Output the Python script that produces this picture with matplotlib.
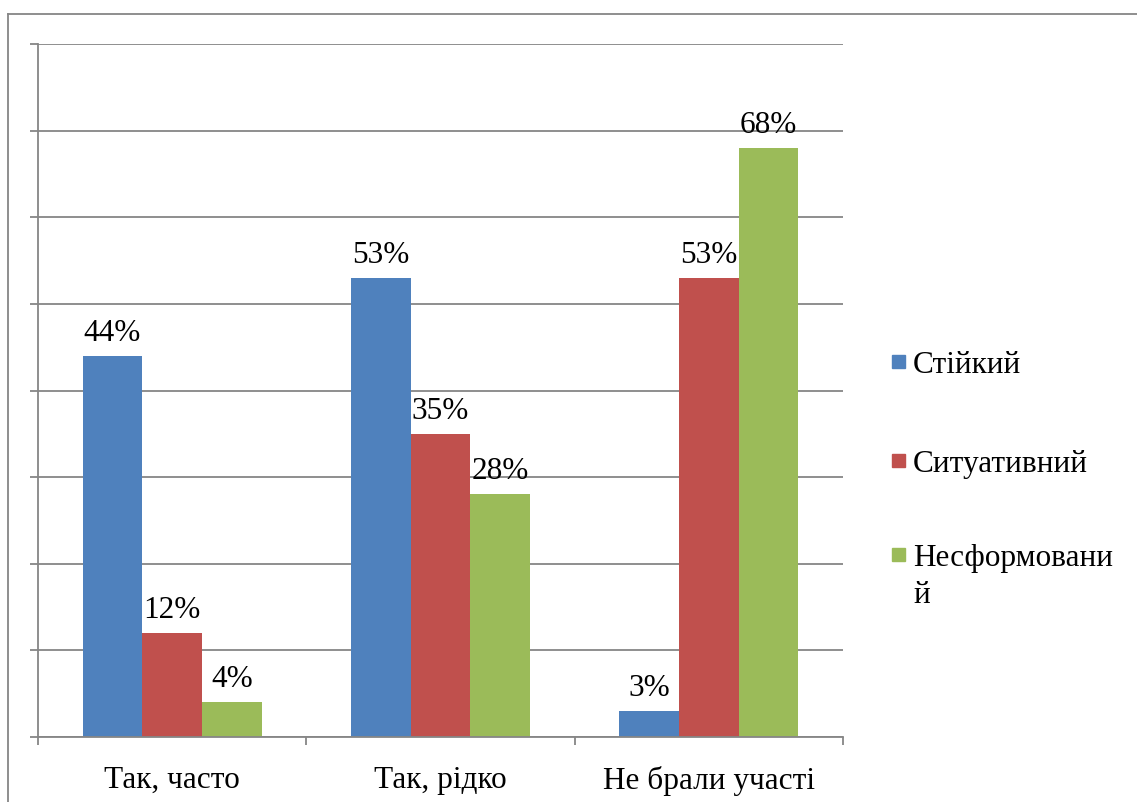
import numpy as np
import matplotlib.pyplot as plt
from matplotlib.patches import Rectangle
from matplotlib.lines import Line2D

plt.rcParams['font.family'] = ['Liberation Serif', 'DejaVu Serif']

# chart data
categories = ['Так, часто', 'Так, рідко', 'Не брали участі']
series_names = ['Стійкий', 'Ситуативний', 'Несформовани\nй']
stiikyi = [44, 53, 3]
sytuatyvnyi = [12, 35, 53]
nesformovanyi = [4, 28, 68]
colors = ['#4F81BD', '#C0504D', '#9BBB59']
grid_color = '#868686'
fs = 22.5

W, H = 1137, 803
fig = plt.figure(figsize=(W / 100, H / 100), dpi=100)
ax = fig.add_axes([38 / W, 1 - 738 / H, (843 - 38) / W, (738 - 45) / H])

x = np.arange(len(categories))
bw = 1 / 4.5
all_series = [stiikyi, sytuatyvnyi, nesformovanyi]
for i, (vals, col) in enumerate(zip(all_series, colors)):
    pos = x + (i - 1) * bw
    ax.bar(pos, vals, width=bw, color=col, zorder=3)
    for px, v in zip(pos, vals):
        ax.annotate(f'{v}%', (px, v), xytext=(0, 11.5), textcoords='offset points',
                    ha='center', va='baseline', fontsize=fs)

ax.set_xlim(-0.5, len(categories) - 0.5)
ax.set_ylim(0, 80)
ax.set_yticks(np.arange(0, 81, 10))
ax.set_yticklabels([])
ax.grid(axis='y', color=grid_color, linewidth=1.3, zorder=0)
ax.tick_params(axis='y', length=6, color=grid_color, width=1.3, direction='out')

ax.set_xticks(x)
ax.set_xticklabels(categories, fontsize=fs)
ax.tick_params(axis='x', which='major', length=0, pad=20)
ax.set_xticks(np.arange(-0.5, len(categories)), minor=True)
ax.tick_params(axis='x', which='minor', length=6, color=grid_color, width=1.3, direction='out')

for s in ['top', 'right']:
    ax.spines[s].set_visible(False)
for s in ['left', 'bottom']:
    ax.spines[s].set_color(grid_color)
    ax.spines[s].set_linewidth(1.3)
ax.spines['left'].set_zorder(4)
ax.spines['bottom'].set_zorder(4)

# legend drawn by hand so the wrapped label lines up like the original
leg_y = [363, 462, 556]
line_gap = 37
for name, col, yy in zip(series_names, colors, leg_y):
    fig.patches.append(Rectangle((892 / W, 1 - (yy + 6) / H), 13 / W, 13 / H,
                                 transform=fig.transFigure, color=col))
    for k, part in enumerate(name.split('\n')):
        fig.text(913 / W, 1 - (yy + 10 + k * line_gap) / H, part, fontsize=fs,
                 va='baseline', ha='left')

# outer chart frame (cropped at right and bottom)
fig.lines.append(Line2D([8 / W, 8 / W], [0, 1 - 15 / H], transform=fig.transFigure,
                        color=grid_color, linewidth=1.3))
fig.lines.append(Line2D([8 / W, 1], [1 - 15 / H, 1 - 15 / H], transform=fig.transFigure,
                        color=grid_color, linewidth=1.3))

fig.savefig('out.png', dpi=100)
